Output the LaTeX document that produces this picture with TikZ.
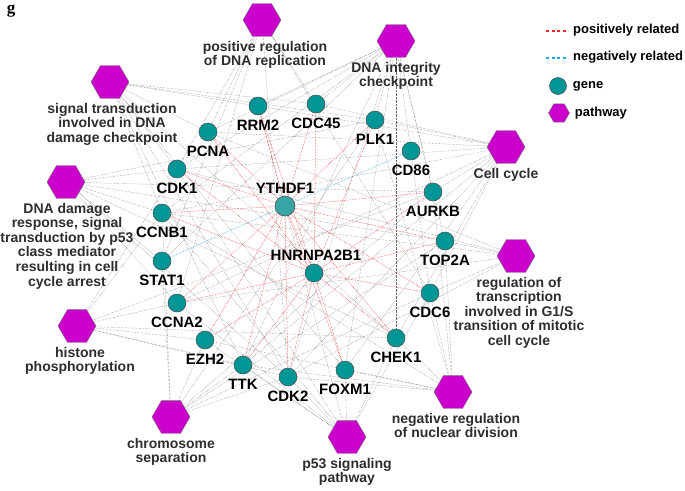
\documentclass[tikz,border=0pt]{standalone}
\usepackage{fontspec}
\setmainfont{Liberation Sans}
\newfontfamily\tagfont{Liberation Serif}
\usepackage{tikz}
\usetikzlibrary{positioning,shapes.geometric,backgrounds}
\definecolor{genecol}{RGB}{0,150,150}
\definecolor{ythcol}{RGB}{55,165,165}
\definecolor{pathcol}{RGB}{204,0,204}
\definecolor{poscol}{RGB}{255,40,40}
\definecolor{negcol}{RGB}{30,165,240}
\definecolor{plabcol}{RGB}{45,45,45}

\begin{document}
\begin{tikzpicture}[x=1pt, y=-1pt,
	gene/.style={circle, draw=black!70, fill=genecol, line width=0.5pt, minimum size=18pt, inner sep=0pt},
	pathway/.style={regular polygon, regular polygon sides=6, draw=black!55, fill=pathcol, line width=0.4pt, minimum size=38pt, inner sep=0pt},
	glabel/.style={font=\fontsize{15}{17}\selectfont\bfseries, inner sep=0pt},
	plabel/.style={font=\fontsize{14}{14.6}\selectfont\bfseries, text=plabcol, align=center, inner sep=0pt},
	leglabel/.style={font=\fontsize{13}{15}\selectfont\bfseries, inner sep=0pt, anchor=west},
	assoc/.style={black!60, densely dotted, line width=0.4pt},
	posrel/.style={draw=poscol, densely dotted, line width=0.5pt},
	negrel/.style={draw=negcol, densely dotted, line width=0.55pt},
	legline/.style={line width=1.1pt, dash pattern=on 3pt off 2.5pt}]

	\useasboundingbox (0,0) rectangle (685,490);

	% geni
	\node[gene] (rrm2) at (258,106) {};
	\node[gene] (cdc45) at (316,104) {};
	\node[gene] (plk1) at (375,120) {};
	\node[gene] (pcna) at (208,132) {};
	\node[gene] (cd86) at (411,151) {};
	\node[gene] (cdk1) at (177,169) {};
	\node[gene] (aurkb) at (433,192) {};
	\node[gene, fill=ythcol, minimum size=20pt] (ythdf1) at (285,206) {};
	\node[gene] (ccnb1) at (162,213) {};
	\node[gene] (top2a) at (445,241) {};
	\node[gene] (stat1) at (162,261) {};
	\node[gene] (hnrn) at (314,273) {};
	\node[gene] (ccna2) at (177,303) {};
	\node[gene] (cdc6) at (430,293) {};
	\node[gene] (ezh2) at (205,340) {};
	\node[gene] (chek1) at (396,338) {};
	\node[gene] (ttk) at (243,365) {};
	\node[gene] (foxm1) at (345,370) {};
	\node[gene] (cdk2) at (288,377) {};

	\node[glabel, below=4.5pt of rrm2] (rrm2l) {RRM2};
	\node[glabel, below=4.5pt of cdc45] (cdc45l) {CDC45};
	\node[glabel, below=4.5pt of plk1] (plk1l) {PLK1};
	\node[glabel, below=4.5pt of pcna] (pcnal) {PCNA};
	\node[glabel, below=4.5pt of cd86] (cd86l) {CD86};
	\node[glabel, below=4.5pt of cdk1] (cdk1l) {CDK1};
	\node[glabel, below=4.5pt of aurkb] (aurkbl) {AURKB};
	\node[glabel, above=2pt of ythdf1] (ythdf1l) {YTHDF1};
	\node[glabel, below=4.5pt of ccnb1] (ccnb1l) {CCNB1};
	\node[glabel, below=4.5pt of top2a] (top2al) {TOP2A};
	\node[glabel, below=4.5pt of stat1] (stat1l) {STAT1};
	\node[glabel, above=3pt of hnrn, xshift=2pt] (hnrnl) {HNRNPA2B1};
	\node[glabel, below=4.5pt of ccna2] (ccna2l) {CCNA2};
	\node[glabel, below=4.5pt of cdc6] (cdc6l) {CDC6};
	\node[glabel, below=4.5pt of ezh2] (ezh2l) {EZH2};
	\node[glabel, below=4.5pt of chek1] (chek1l) {CHEK1};
	\node[glabel, below=4.5pt of ttk] (ttkl) {TTK};
	\node[glabel, below=4.5pt of foxm1] (foxm1l) {FOXM1};
	\node[glabel, below=4.5pt of cdk2] (cdk2l) {CDK2};

	% pathway
	\node[pathway] (pr) at (262,20) {};
	\node[pathway] (di) at (396,41) {};
	\node[pathway] (st) at (110,82) {};
	\node[pathway] (cc) at (506,147) {};
	\node[pathway] (dd) at (66,182) {};
	\node[pathway] (rt) at (516,256) {};
	\node[pathway] (hp) at (77,326) {};
	\node[pathway] (nr) at (453,392) {};
	\node[pathway] (cs) at (171,417) {};
	\node[pathway] (pp) at (347,437) {};

	\node[plabel, below=4pt of pr, xshift=3pt] (prl) {positive regulation\\of DNA replication};
	\node[plabel, below=4pt of di] (dil) {DNA integrity\\checkpoint};
	\node[plabel, below=4pt of st, xshift=2pt] (stl) {signal transduction\\involved in DNA\\damage checkpoint};
	\node[plabel, below=4pt of cc] (ccl) {Cell cycle};
	\node[plabel, below=4pt of dd, xshift=1pt] (ddl) {DNA damage\\response, signal\\transduction by p53\\class mediator\\resulting in cell\\cycle arrest};
	\node[plabel, below=4pt of rt, xshift=3pt] (rtl) {regulation of\\transcription\\involved in G1/S\\transition of mitotic\\cell cycle};
	\node[plabel, below=4pt of hp, xshift=3pt] (hpl) {histone\\phosphorylation};
	\node[plabel, below=4pt of nr, xshift=3pt] (nrl) {negative regulation\\of nuclear division};
	\node[plabel, below=4pt of cs] (csl) {chromosome\\separation};
	\node[plabel, below=4pt of pp] (ppl) {p53 signaling\\pathway};

	% collegamenti
	\begin{scope}[on background layer]
		\foreach \g in {pcna,cdk1,cdc45,cdk2,ccna2,cdc6,stat1}
			\draw[assoc] (pr) -- (\g);
		\foreach \g in {plk1,cdc45,rrm2,pcna,cdk1,ccnb1,aurkb,top2a,chek1,cdc6,ttk,cdk2,foxm1,stat1}
			\draw[assoc] (di) -- (\g);
		\foreach \g in {plk1,cdc45,rrm2,pcna,cdk1,ccnb1,chek1,cdk2,ttk,foxm1}
			\draw[assoc] (st) -- (\g);
		\foreach \g in {plk1,cdc45,rrm2,pcna,cdk1,ccnb1,aurkb,cdc6,chek1,ccna2,ttk,cdk2,foxm1}
			\draw[assoc] (cc) -- (\g);
		\foreach \g in {ccnb1,cdk1,plk1,aurkb,top2a,chek1,cdk2,ccna2,stat1}
			\draw[assoc] (dd) -- (\g);
		\foreach \g in {top2a,cdc6,cdk1,ccna2,ccnb1,pcna,cdk2}
			\draw[assoc] (rt) -- (\g);
		\foreach \g in {ccnb1,ccna2,cdk1,cdk2,ttk,aurkb,chek1,ezh2}
			\draw[assoc] (hp) -- (\g);
		\foreach \g in {cdc6,top2a,chek1,foxm1,ttk,cdk2,ezh2,aurkb,plk1,ccnb1}
			\draw[assoc] (nr) -- (\g);
		\foreach \g in {stat1,ttk,cdk2,ezh2,aurkb,plk1,cdc6,top2a,ccnb1}
			\draw[assoc] (cs) -- (\g);
		\foreach \g in {chek1,cdk2,cdk1,ccnb1,rrm2,ccna2,foxm1,ttk,cdc6,ezh2}
			\draw[assoc] (pp) -- (\g);

		% correlazioni
		\foreach \g in {rrm2,pcna,cdc45,plk1,cdk1,ccnb1,aurkb,top2a,cdc6,chek1,ccna2,ezh2,ttk,cdk2,foxm1,hnrn}
			\draw[posrel] (ythdf1) -- (\g);
		\foreach \g in {rrm2,pcna,cdc45,plk1,cdk1,ccnb1,aurkb,top2a,cdc6,chek1,foxm1,ccna2,ezh2,cdk2,ttk}
			\draw[posrel] (hnrn) -- (\g);
		\draw[negrel] (ythdf1) -- (stat1);
		\draw[negrel] (ythdf1) -- (cd86);
	\end{scope}

	% legenda
	\coordinate (posa) at (546,31);
	\coordinate (posb) at (568,31);
	\coordinate (nega) at (546,58);
	\coordinate (negb) at (568,58);
	\draw[legline, draw=poscol] (posa) -- (posb);
	\draw[legline, draw=negcol] (nega) -- (negb);
	\node[leglabel] (postxt) at (573,30) {positively related};
	\node[leglabel] (negtxt) at (573,57) {negatively related};
	\node[gene, minimum size=17pt] (leggene) at (558,86) {};
	\node[leglabel, right=6pt of leggene] (genetxt) {gene};
	\node[pathway, minimum size=21pt] (legpath) at (559,113) {};
	\node[leglabel, right=5pt of legpath] (pathtxt) {pathway};

	\node[font=\tagfont\bfseries\fontsize{17}{17}\selectfont, inner sep=0pt] (tag) at (11,11) {g};
\end{tikzpicture}
\end{document}
